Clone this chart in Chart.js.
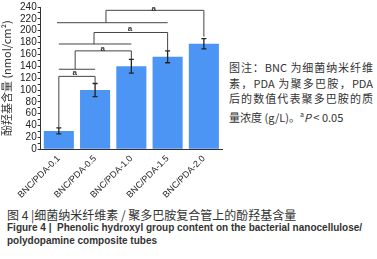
<!DOCTYPE html>
<html>
<head>
<meta charset="utf-8">
<script src="https://cdn.jsdelivr.net/npm/chart.js@4"></script>
<style>
  html, body { margin: 0; padding: 0; background: #fff; }
  body { width: 377px; height: 259px; position: relative; overflow: hidden; font-family: "Liberation Sans", "Noto Sans CJK SC", sans-serif; }
  #wrap { position: absolute; left: 0; top: 0; width: 228px; height: 200px; }
  #note { position: absolute; left: 229px; top: 60px; width: 144px; font-size: 11px; line-height: 15.7px; color: #333; font-family: "Noto Sans CJK SC", sans-serif; }
  #note div { text-align: justify; text-align-last: justify; white-space: nowrap; }
  #note div.last { text-align-last: left; }
  .cap { position: absolute; left: 7px; white-space: nowrap; color: #333; }
  #cap1 { top: 206px; font-size: 12px; font-family: "Noto Sans CJK SC", sans-serif; }
  #cap2 { top: 222px; font-size: 10px; font-weight: bold; }
  #cap3 { top: 235px; font-size: 10px; font-weight: bold; }
</style>
</head>
<body>
<div id="wrap"><canvas id="chart"></canvas></div>
<div id="note">
  <div>图注：BNC 为细菌纳米纤维</div>
  <div>素，PDA 为聚多巴胺，PDA</div>
  <div>后的数值代表聚多巴胺的质</div>
  <div class="last">量浓度 (g/L)。<sup style="font-size:7px">a</sup><i>P</i> &lt; 0.05</div>
</div>
<div class="cap" id="cap1">图 4 |细菌纳米纤维素 / 聚多巴胺复合管上的酚羟基含量</div>
<div class="cap" id="cap2">Figure 4 |&nbsp; Phenolic hydroxyl group content on the bacterial nanocellulose/</div>
<div class="cap" id="cap3">polydopamine composite tubes</div>
<script>
const categories = ['BNC/PDA-0.1', 'BNC/PDA-0.5', 'BNC/PDA-1.0', 'BNC/PDA-1.5', 'BNC/PDA-2.0'];
const values = [31, 100, 140, 156, 178];
const errors = [5, 11, 11.5, 10, 8.5];
const yTicks = [0, 240, 20];

// significance brackets: [x from, x to, height, left leg end, right leg end]
const brackets = [
  [0, 1, 123, 36, 111],
  [0.45, 2, 166, 135, 152],
  [0.97, 3, 197, 177.6, 166],
  [1.3, 4, 234.4, 213.5, 190]
];
// group lines joining several bars: [x from, x to, height]
const groupLines = [
  [0, 1, 135],
  [0, 2, 177.6],
  [-0.05, 3, 213.5]
];
// "a" marks: [x, y]
const sigLabels = [
  [0.44, 129],
  [1.21, 170],
  [1.96, 204],
  [2.62, 236.5]
];

const annotate = {
  id: 'annotate',
  afterDatasetsDraw(chart) {
    const ctx = chart.ctx;
    const meta = chart.getDatasetMeta(0);
    const x = chart.scales.x;
    const y = chart.scales.y;
    ctx.save();
    // error bars
    ctx.strokeStyle = '#222';
    ctx.lineWidth = 1.3;
    meta.data.forEach((bar, i) => {
      const top = y.getPixelForValue(values[i] + errors[i]);
      const bot = y.getPixelForValue(values[i] - errors[i]);
      ctx.beginPath();
      ctx.moveTo(bar.x, top); ctx.lineTo(bar.x, bot);
      ctx.moveTo(bar.x - 2.5, top); ctx.lineTo(bar.x + 2.5, top);
      ctx.moveTo(bar.x - 2.5, bot); ctx.lineTo(bar.x + 2.5, bot);
      ctx.stroke();
    });
    // brackets and group lines
    ctx.strokeStyle = '#444';
    ctx.lineWidth = 1;
    brackets.forEach(b => {
      ctx.beginPath();
      ctx.moveTo(x.getPixelForValue(b[0]), y.getPixelForValue(b[3]));
      ctx.lineTo(x.getPixelForValue(b[0]), y.getPixelForValue(b[2]));
      ctx.lineTo(x.getPixelForValue(b[1]), y.getPixelForValue(b[2]));
      ctx.lineTo(x.getPixelForValue(b[1]), y.getPixelForValue(b[4]));
      ctx.stroke();
    });
    groupLines.forEach(g => {
      ctx.beginPath();
      ctx.moveTo(x.getPixelForValue(g[0]), y.getPixelForValue(g[2]));
      ctx.lineTo(x.getPixelForValue(g[1]), y.getPixelForValue(g[2]));
      ctx.stroke();
    });
    // significance letters
    ctx.fillStyle = '#333';
    ctx.font = 'bold 8px "Liberation Sans"';
    ctx.textAlign = 'center';
    ctx.textBaseline = 'middle';
    sigLabels.forEach(l => {
      ctx.fillText('a', x.getPixelForValue(l[0]), y.getPixelForValue(l[1]));
    });
    ctx.restore();
  }
};

new Chart(document.getElementById('chart'), {
  type: 'bar',
  data: {
    labels: categories,
    datasets: [{
      data: values,
      backgroundColor: '#4c95f4',
      borderWidth: 0,
      barPercentage: 0.83,
      categoryPercentage: 1
    }]
  },
  options: {
    responsive: true,
    maintainAspectRatio: false,
    animation: false,
    layout: { padding: { top: 7, right: 6, left: 0, bottom: 0 } },
    plugins: { legend: { display: false }, tooltip: { enabled: false } },
    scales: {
      x: {
        grid: { drawOnChartArea: false, drawTicks: false },
        border: { color: '#333' },
        ticks: { minRotation: 45, maxRotation: 45, color: '#222', padding: 4, font: { size: 9, family: 'Liberation Sans' } },
        afterFit(s) { s.height = 50.7; }
      },
      y: {
        min: yTicks[0], max: yTicks[1],
        grid: { drawOnChartArea: false, tickLength: 3, color: '#333' },
        border: { color: '#333' },
        ticks: {
          stepSize: yTicks[2] / 2, autoSkip: false, padding: 1, color: '#222',
          font: { size: 10, family: 'Liberation Sans' },
          callback: v => (v % yTicks[2] === 0 ? v : '')
        },
        title: {
          display: true, text: '酚羟基含量 (nmol/cm²)', color: '#333', padding: 0,
          font: { size: 11, family: 'Noto Sans CJK SC' }
        },
        afterFit(s) { s.width = 40.7; }
      }
    }
  },
  plugins: [annotate]
});
</script>
</body>
</html>
